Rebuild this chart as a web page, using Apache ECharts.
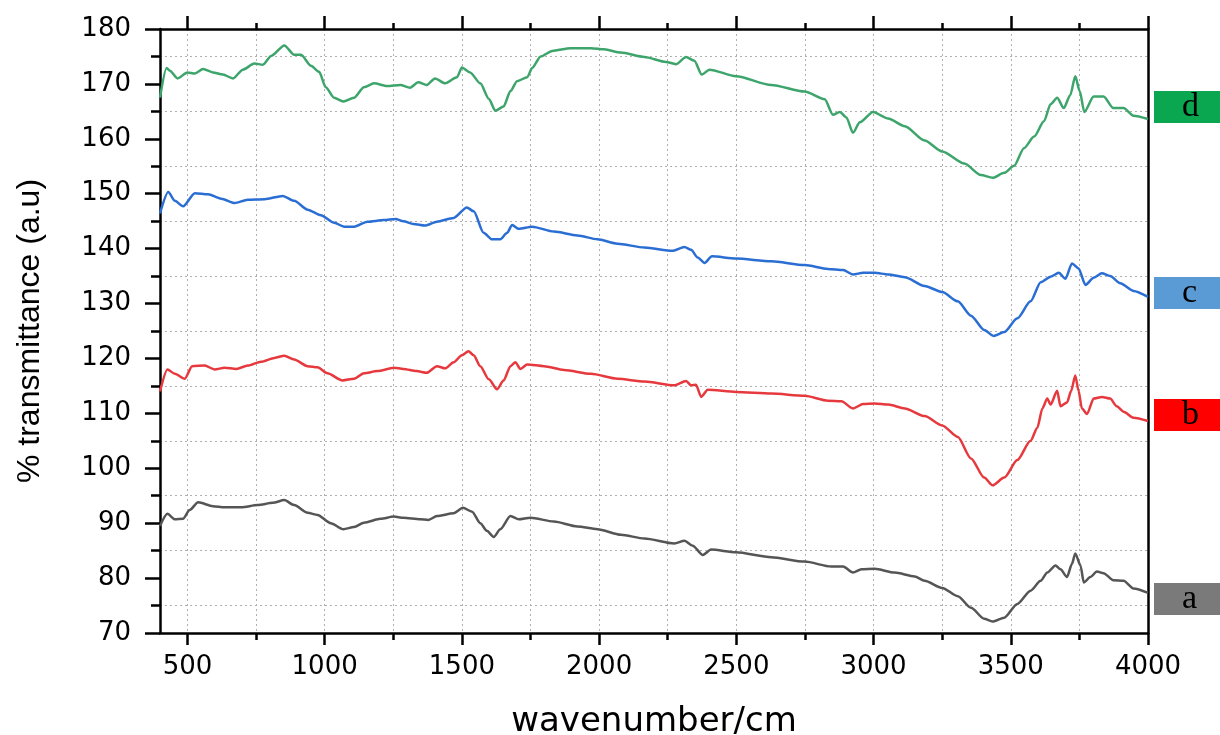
<!DOCTYPE html>
<html>
<head>
<meta charset="utf-8">
<script src="https://cdn.jsdelivr.net/npm/echarts@6/dist/echarts.min.js"></script>
<style>
  html, body { margin: 0; padding: 0; background: #fff; }
  #chart { width: 1220px; height: 735px; }
</style>
</head>
<body>
<div id="chart"></div>
<script>
// spectrum a (grey)
const waveA = [400, 427, 454, 484, 508, 539, 593, 635, 696, 756, 811, 853, 889, 938, 974, 1022, 1068, 1107, 1143, 1204,
  1252, 1287, 1348, 1378, 1409, 1470, 1504, 1537, 1567, 1591, 1616, 1640, 1677, 1707, 1750, 1835, 1921, 1994, 2079, 2165,
  2274, 2311, 2341, 2378, 2408, 2499, 2627, 2749, 2846, 2889, 2925, 2956, 3004, 3077, 3150, 3186, 3250, 3307, 3355, 3403,
  3434, 3476, 3524, 3572, 3609, 3633, 3663, 3681, 3705, 3723, 3735, 3754, 3766, 3790, 3814, 3838, 3874, 3911, 3947, 4000];
const transA = [89.5, 91.7, 90.7, 90.8, 92.4, 93.8, 93.1, 92.9, 92.9, 93.3, 93.7, 94.2, 93.3, 91.9, 91.5, 90.0, 88.9, 89.3, 90.1, 90.8,
  91.2, 91.0, 90.7, 90.6, 91.3, 91.8, 92.8, 92.1, 90.0, 88.6, 87.5, 88.9, 91.3, 90.7, 91.0, 90.3, 89.4, 88.9, 87.9, 87.2,
  86.3, 86.8, 85.9, 84.2, 85.2, 84.7, 83.8, 83.0, 82.1, 82.1, 81.0, 81.6, 81.7, 81.0, 80.3, 79.5, 78.2, 76.7, 74.6, 72.6,
  72.1, 72.8, 75.3, 77.7, 79.5, 81.0, 82.3, 81.6, 80.2, 82.6, 84.5, 82.3, 79.2, 80.2, 81.2, 80.9, 79.6, 79.5, 78.1, 77.3];

// spectrum b (red)
const waveB = [400, 427, 454, 490, 517, 563, 599, 635, 678, 720, 768, 817, 853, 889, 938, 974, 1010, 1065, 1107, 1143,
  1192, 1252, 1287, 1335, 1372, 1409, 1439, 1470, 1500, 1524, 1543, 1567, 1598, 1628, 1652, 1677, 1695, 1713, 1738, 1799,
  1872, 1970, 2067, 2165, 2274, 2317, 2335, 2353, 2372, 2396, 2499, 2627, 2749, 2834, 2883, 2925, 2962, 3004, 3053, 3114,
  3186, 3250, 3307, 3355, 3403, 3434, 3476, 3524, 3572, 3597, 3615, 3633, 3645, 3669, 3681, 3705, 3720, 3735, 3747, 3759,
  3778, 3802, 3832, 3862, 3886, 3911, 3947, 4000];
const transB = [114.0, 118.0, 117.2, 116.3, 118.6, 118.7, 118.0, 118.3, 118.1, 118.7, 119.4, 120.1, 120.5, 119.8, 118.6, 118.4, 117.3, 116.0, 116.3, 117.3,
  117.7, 118.3, 118.1, 117.7, 117.4, 118.6, 118.2, 119.3, 120.6, 121.3, 120.6, 118.6, 116.2, 114.4, 116.0, 118.6, 119.3, 118.1, 118.9, 118.6,
  117.9, 117.2, 116.3, 115.8, 115.1, 115.9, 115.1, 115.2, 113.0, 114.3, 113.9, 113.6, 113.2, 112.3, 112.2, 110.9, 111.7, 111.8, 111.6, 110.9,
  109.5, 107.8, 105.7, 101.8, 98.3, 96.9, 98.3, 101.5, 105.0, 107.4, 110.9, 112.7, 111.6, 114.1, 111.3, 112.0, 114.1, 116.9, 114.1, 110.9,
  109.9, 112.7, 113.0, 112.7, 111.3, 110.3, 109.2, 108.6];

// spectrum c (blue)
const waveC = [400, 430, 454, 484, 527, 575, 623, 672, 720, 781, 847, 889, 938, 986, 1035, 1071, 1107, 1156, 1216, 1258,
  1287, 1323, 1366, 1409, 1470, 1518, 1543, 1579, 1610, 1640, 1665, 1683, 1707, 1756, 1835, 1921, 1994, 2067, 2165, 2268,
  2311, 2335, 2359, 2384, 2411, 2499, 2627, 2749, 2834, 2889, 2925, 2962, 3004, 3053, 3114, 3186, 3250, 3307, 3355, 3403,
  3437, 3476, 3524, 3572, 3609, 3645, 3675, 3699, 3723, 3747, 3772, 3802, 3832, 3862, 3899, 3947, 4000];
const transC = [146.4, 150.3, 148.7, 147.7, 150.1, 149.9, 149.1, 148.3, 148.9, 149.0, 149.6, 148.7, 147.1, 146.1, 144.7, 144.0, 144.0, 144.9, 145.2, 145.4,
  145.0, 144.5, 144.2, 144.9, 145.6, 147.5, 146.8, 142.9, 141.7, 141.7, 142.9, 144.3, 143.6, 144.0, 143.1, 142.4, 141.7, 140.9, 140.2, 139.6,
  140.3, 139.8, 138.4, 137.4, 138.6, 138.2, 137.7, 137.0, 136.3, 136.1, 135.3, 135.6, 135.6, 135.3, 134.8, 133.2, 132.1, 130.4, 127.8, 125.2,
  124.1, 124.8, 127.3, 130.4, 133.9, 134.9, 135.6, 134.5, 137.3, 136.4, 133.4, 134.7, 135.5, 135.0, 133.7, 132.3, 131.2];

// spectrum d (green)
const waveD = [400, 424, 436, 464, 500, 527, 557, 593, 629, 666, 702, 744, 775, 805, 853, 889, 914, 950, 980, 1004,
  1034, 1068, 1107, 1143, 1180, 1228, 1276, 1311, 1341, 1372, 1402, 1439, 1482, 1500, 1530, 1567, 1598, 1622, 1652, 1677,
  1701, 1738, 1756, 1787, 1829, 1896, 1970, 2018, 2079, 2165, 2244, 2280, 2317, 2347, 2374, 2402, 2499, 2627, 2749, 2822,
  2852, 2877, 2901, 2925, 2950, 2998, 3053, 3114, 3186, 3250, 3331, 3391, 3434, 3476, 3512, 3548, 3585, 3621, 3645, 3669,
  3693, 3717, 3735, 3751, 3768, 3802, 3838, 3874, 3911, 3947, 4000];
const transD = [167.5, 172.9, 172.4, 171.0, 172.1, 171.9, 172.7, 172.1, 171.7, 171.0, 172.6, 173.7, 173.5, 175.1, 177.0, 175.3, 175.3, 173.3, 172.2, 169.4,
  167.5, 166.8, 167.5, 169.4, 170.1, 169.6, 169.8, 169.3, 170.3, 169.8, 171.0, 170.1, 171.2, 173.0, 172.1, 170.1, 167.3, 165.1, 165.9, 168.7,
  170.5, 171.2, 172.9, 175.0, 176.0, 176.5, 176.5, 176.3, 175.7, 174.9, 174.0, 173.6, 174.9, 174.2, 171.7, 172.6, 171.4, 169.8, 168.6, 167.2,
  164.4, 164.9, 163.9, 161.1, 163.0, 164.9, 163.7, 162.3, 159.7, 157.7, 155.5, 153.4, 152.9, 153.8, 155.1, 158.3, 160.4, 163.2, 166.3, 167.5,
  165.6, 168.0, 171.4, 168.7, 164.9, 167.7, 167.7, 165.6, 165.6, 164.2, 163.6];

// x ticks
const xLabelTicks = [500, 1000, 1500, 2000, 2500, 3000, 3500, 4000];
const xGridTicks = [500, 750, 1000, 1250, 1500, 1750, 2000, 2250, 2500, 2750, 3000, 3250, 3500, 3750];

const chart = echarts.init(document.getElementById('chart'));

function pairs(w, t) {
  return w.map((x, i) => [x, t[i]]);
}

const axisBlack = {color: '#000', width: 2.5};
const gridStyle = {color: '#b0b0b0', width: 1, type: [2, 3]};

function boxLabel(letter, bg, dy) {
  return {
    show: true,
    formatter: letter,
    distance: 6,
    offset: [0, dy],
    backgroundColor: bg,
    color: '#000',
    fontFamily: 'Liberation Serif',
    fontSize: 34,
    lineHeight: 32,
    padding: [0, 30, 0, 28]
  };
}

function spectrum(name, w, t, color, labelBg, dy) {
  return {
    name: name,
    type: 'line',
    xAxisIndex: 0,
    yAxisIndex: 0,
    data: pairs(w, t),
    showSymbol: false,
    smooth: 0.25,
    smoothMonotone: 'x',
    lineStyle: {color: color, width: 2.5},
    itemStyle: {color: color},
    emphasis: {disabled: true},
    endLabel: boxLabel(name, labelBg, dy)
  };
}

const option = {
  animation: false,
  backgroundColor: '#fff',
  grid: {left: 160, right: 72, top: 29, bottom: 102, containLabel: false, outerBoundsMode: 'none'},
  xAxis: [
    {
      type: 'value', position: 'bottom', min: 400, max: 4000,
      axisLine: {show: true, onZero: false, lineStyle: axisBlack},
      axisTick: {customValues: xLabelTicks, length: 12, lineStyle: axisBlack},
      axisLabel: {
        customValues: xLabelTicks, margin: 21, fontFamily: 'DejaVu Sans', fontSize: 26, color: '#000',
        formatter: v => String(v)
      },
      splitLine: {show: false},
      name: 'wavenumber/cm',
      nameLocation: 'middle',
      nameGap: 72,
      nameTextStyle: {fontFamily: 'DejaVu Sans', fontSize: 34, color: '#000'}
    },
    {
      type: 'value', position: 'bottom', min: 400, max: 4000,
      axisLine: {show: false, onZero: false},
      axisTick: {customValues: xGridTicks, length: 7, lineStyle: axisBlack},
      axisLabel: {show: false},
      splitLine: {show: true, lineStyle: gridStyle}
    },
    {
      type: 'value', position: 'top', min: 400, max: 4000,
      axisLine: {show: true, onZero: false, lineStyle: axisBlack},
      axisTick: {customValues: xLabelTicks, length: 13, lineStyle: axisBlack},
      axisLabel: {show: false},
      splitLine: {show: false}
    },
    {
      type: 'value', position: 'top', min: 400, max: 4000,
      axisLine: {show: false, onZero: false},
      axisTick: {customValues: xGridTicks, length: 6, lineStyle: axisBlack},
      axisLabel: {show: false},
      splitLine: {show: false}
    }
  ],
  yAxis: [
    {
      type: 'value', position: 'left', min: 70, max: 180, interval: 10,
      axisLine: {show: true, onZero: false, lineStyle: axisBlack},
      axisTick: {show: true, length: 15, lineStyle: axisBlack},
      minorTick: {show: true, splitNumber: 2, length: 9, lineStyle: axisBlack},
      splitLine: {show: false},
      minorSplitLine: {show: true, lineStyle: gridStyle},
      axisLabel: {margin: 29, fontFamily: 'DejaVu Sans', fontSize: 26, color: '#000'},
      name: '% transmittance (a.u)',
      nameLocation: 'middle',
      nameGap: 114,
      nameTextStyle: {fontFamily: 'Liberation Sans', fontSize: 32, color: '#000'}
    },
    {
      type: 'value', position: 'right', min: 70, max: 180,
      axisLine: {show: true, onZero: false, lineStyle: axisBlack},
      axisTick: {show: false},
      axisLabel: {show: false},
      splitLine: {show: false}
    }
  ],
  series: [
    spectrum('a', waveA, transA, '#555555', '#7a7a7a', 6),
    spectrum('b', waveB, transB, '#e6393e', '#ff0000', -6),
    spectrum('c', waveC, transC, '#2a6dd3', '#5b9bd5', -4),
    spectrum('d', waveD, transD, '#3da56b', '#0aa650', -12)
  ]
};

chart.setOption(option);
</script>
</body>
</html>
